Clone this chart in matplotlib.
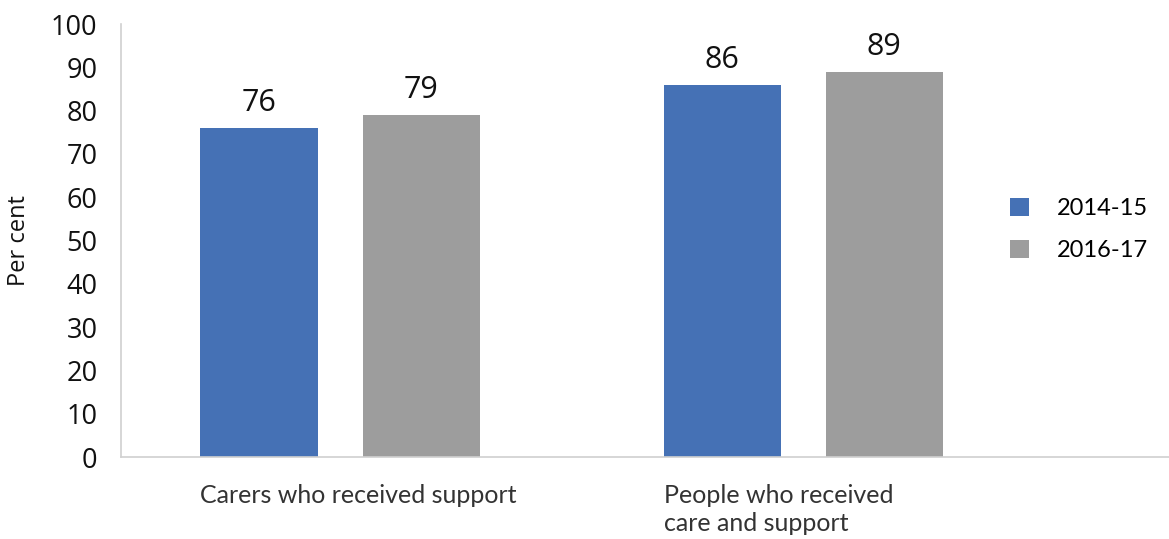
import matplotlib
matplotlib.use('Agg')
import numpy as np
import matplotlib.pyplot as plt

categories = ['Carers who received support', 'People who received\ncare and support']
series_names = ['2014-15', '2016-17']
values_2014 = [76, 86]
values_2016 = [79, 89]
colors = ['#4571B5', '#9D9D9D']

plt.rcParams['font.family'] = ['Open Sans', 'DejaVu Sans']

fig = plt.figure(figsize=(11.69, 5.39), dpi=100)
ax = fig.add_axes([0.1035, 0.152, 0.8965, 0.8033])

x = np.arange(len(categories))
width = 0.253
offset = 0.175
for vals, name, color, sign in zip([values_2014, values_2016], series_names, colors, [-1, 1]):
    bars = ax.bar(x + sign * offset, vals, width, color=color, label=name)
    for b, v in zip(bars, vals):
        ax.annotate(str(v), (b.get_x() + b.get_width() / 2, v), xytext=(0, 7),
                    textcoords='offset points', ha='center', va='bottom',
                    fontsize=22, color='#111111')

ax.set_xlim(-0.473, 1.79)
ax.set_ylim(0, 100)
ax.set_yticks(np.arange(0, 101, 10))
ax.tick_params(axis='y', length=0, pad=17, labelsize=19.5, labelcolor='#111111')
ax.set_xticks([])

for side in ['top', 'right']:
    ax.spines[side].set_visible(False)
for side in ['left', 'bottom']:
    ax.spines[side].set_color('#D0D0D0')
    ax.spines[side].set_linewidth(1.2)

# category labels under each group
label_style = dict(va='top', fontsize=18, family='Lato', color='#333333')
ax.text(x[0] + 0.039, -6.2, categories[0], ha='center', **label_style)
ax.text(x[1] - offset - width / 2, -6.2, categories[1], ha='left',
        linespacing=1.25, **label_style)

ax.set_ylabel('Per cent', fontsize=17, labelpad=14, color='#111111')

ax.legend(loc='center left', bbox_to_anchor=(0.8456, 0.574), bbox_transform=fig.transFigure,
          frameon=False, handlelength=0.8, handleheight=0.8,
          handletextpad=1.2, labelspacing=0.9, prop={'family': 'Lato', 'size': 17})

plt.savefig('out.png', dpi=100)
